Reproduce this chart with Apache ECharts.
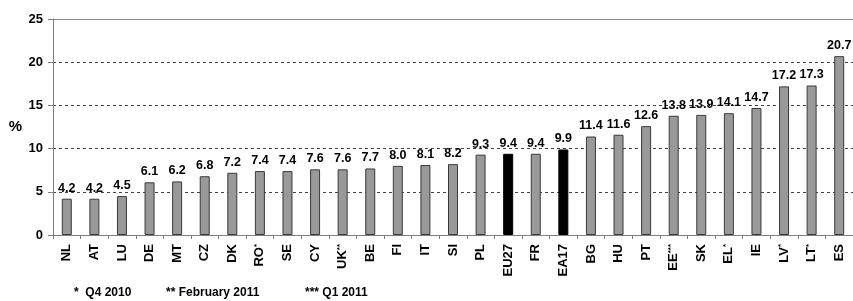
<!DOCTYPE html>
<html><head><meta charset="utf-8">
<script src="https://cdn.jsdelivr.net/npm/echarts@6/dist/echarts.min.js"></script>
<style>html,body{margin:0;padding:0;background:#fff}#c{width:853px;height:301px}</style>
</head><body><div id="c"></div>
<script>
var categories = ['NL','AT','LU','DE','MT','CZ','DK','RO*','SE','CY','UK**','BE','FI','IT','SI','PL','EU27','FR','EA17','BG','HU','PT','EE***','SK','EL*','IE','LV*','LT*','ES'];
var values = [4.2,4.2,4.5,6.1,6.2,6.8,7.2,7.4,7.4,7.6,7.6,7.7,8.0,8.1,8.2,9.3,9.4,9.4,9.9,11.4,11.6,12.6,13.8,13.9,14.1,14.7,17.2,17.3,20.7];
var highlighted = ['EU27','EA17'];
var yTicks = [0,5,10,15,20,25];
var footnotes = ['*  Q4 2010','** February 2011','*** Q1 2011'];

var font = 'Liberation Sans, Arial, sans-serif';
var chart = echarts.init(document.getElementById('c'), null, {renderer:'canvas'});
var data = values.map(function(v,i){
  var hi = highlighted.indexOf(categories[i]) >= 0;
  return {value:v, itemStyle:{color: hi ? '#000000' : '#999999', borderColor: hi ? '#000000' : '#3a3a3a', borderWidth:1}};
});
chart.setOption({
  animation:false,
  grid:{left:53, top:19, width:803, height:216, containLabel:false},
  xAxis:[{
    type:'category', data:categories,
    axisLine:{show:true, lineStyle:{color:'#7f7f7f', width:1}},
    axisTick:{show:true, alignWithLabel:false, length:4, lineStyle:{color:'#7f7f7f'}},
    axisLabel:{rotate:90, interval:0, margin:9, color:'#000', fontFamily:font, fontWeight:'bold', fontSize:13,
      formatter:function(v){
        var m = v.match(/^([^*]*)(\**)$/);
        return m[2] ? m[1] + '{s|' + m[2] + '}' : v;
      },
      rich:{s:{fontSize:8, fontWeight:'bold', fontFamily:font, color:'#000', verticalAlign:'top', padding:[0,0,6,0]}}
    },
    splitLine:{show:false}
  },{
    type:'category', data:categories, position:'top',
    axisLine:{show:true, lineStyle:{color:'#8a8a8a', width:1}},
    axisTick:{show:false}, axisLabel:{show:false}
  }],
  yAxis:{
    type:'value', min:yTicks[0], max:yTicks[yTicks.length-1], interval:5,
    name:'%', nameLocation:'middle', nameRotate:0, nameGap:31,
    nameTextStyle:{color:'#000', fontFamily:font, fontWeight:'bold', fontSize:15},
    axisLine:{show:true, lineStyle:{color:'#7f7f7f', width:1}},
    axisTick:{show:true, length:5, lineStyle:{color:'#7f7f7f'}},
    axisLabel:{color:'#000', fontFamily:font, fontWeight:'bold', fontSize:13, margin:10},
    splitLine:{show:true, lineStyle:{color:'#444', width:1, type:[3,3]}}
  },
  series:[{
    type:'bar', data:data, barWidth:10,
    label:{show:true, position:'top', distance:4, color:'#000', fontFamily:font, fontWeight:'bold', fontSize:12.5,
      formatter:function(p){return p.value.toFixed(1);}}
  }],
  graphic:[
    {type:'text', left:74, top:287, style:{text:footnotes[0], font:'bold 12px '+font, fill:'#000'}},
    {type:'text', left:166, top:287, style:{text:footnotes[1], font:'bold 12px '+font, fill:'#000'}},
    {type:'text', left:305, top:287, style:{text:footnotes[2], font:'bold 12px '+font, fill:'#000'}}
  ]
});
</script></body></html>
